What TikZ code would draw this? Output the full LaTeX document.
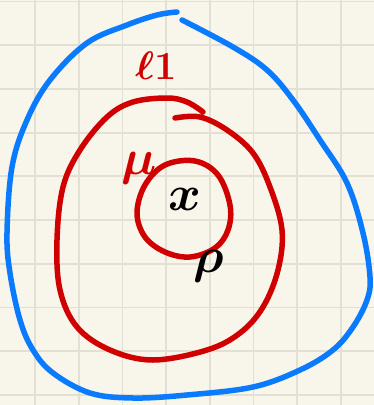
\documentclass[tikz,border=0pt]{standalone}
\usepackage{amsmath}
\definecolor{paper}{HTML}{F8F5EA}
\definecolor{gridc}{HTML}{E2DFD3}
\definecolor{pblue}{HTML}{0A7BFF}
\definecolor{pred}{HTML}{D10000}
\tikzset{
  ink/.style={line width=5.5pt, line cap=round, line join=round},
  lbl/.style={inner sep=0pt, scale=2, transform shape, font=\Huge\boldmath},
}
\begin{document}
\begin{tikzpicture}[x=1pt,y=-1pt]
\fill[paper] (0,0) rectangle (374,405);
\useasboundingbox (0,0) rectangle (374,405);
% grid
\foreach \k in {0,...,7} \draw[gridc, line width=1.8pt] ({35+43.7*\k},0) -- ({35+43.7*\k},405);
\foreach \k in {0,...,9} \draw[gridc, line width=1.8pt] (0,{1.5+43.7*\k}) -- (374,{1.5+43.7*\k});
% blue loop
\draw[ink, pblue] plot[smooth, tension=0.6] coordinates {
 (182,20) (233,47) (267,70) (293,100) (320,140) (347,183) (363,233) (370,277)
 (367,300) (353,327) (333,350) (300,370) (253,387) (187,395) (133,398) (90,393)
 (53,373) (33,350) (20,320) (10,273) (7,233) (12,167) (27,120) (50,80)
 (87,43) (127,25) (157,15) (177,12)};
% red outer
\draw[ink, pred] plot[smooth, tension=0.6] coordinates {
 (175,118) (200,117) (227,130) (253,153) (270,187) (282,230) (278,270) (263,307)
 (240,333) (207,350) (153,360) (110,350) (77,327) (60,290) (57,240) (63,187)
 (80,150) (107,117) (133,102) (167,98) (187,102) (203,112)};
% red inner
\draw[ink, pred] plot[smooth cycle, tension=0.6] coordinates {
 (137,213) (145,185) (165,165) (195,161) (218,175) (230,205) (228,230)
 (215,248) (190,257) (165,252) (145,237)};
% labels
\node[lbl, pred, scale=0.8] (l1) at (156,66) {$\ell 1$};
\node[lbl, pred] (mu) at (139,168) {$\mu$};
\node[lbl] (x) at (185,199) {$x$};
\node[lbl] (rho) at (209,266) {$\rho$};
\end{tikzpicture}
\end{document}
